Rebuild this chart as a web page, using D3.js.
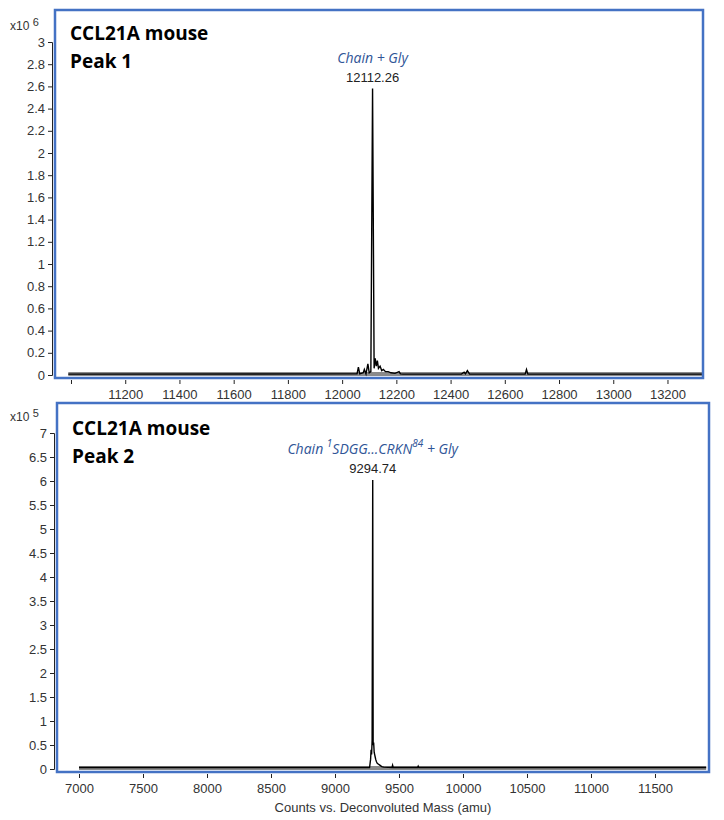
<!DOCTYPE html>
<html><head><meta charset="utf-8">
<script src="https://cdn.jsdelivr.net/npm/d3@7"></script>
<style>body{margin:0;background:#fff}</style>
</head><body>
<svg id="chart" width="724" height="820"></svg>
<script>
// top panel: CCL21A mouse peak 1 (x10^6 counts)
var massTop = [10990, 12040, 12055, 12060, 12065, 12078, 12082, 12088, 12095, 12100, 12106, 12112.26, 12118, 12122, 12126, 12130, 12134, 12140, 12146, 12152, 12160, 12170, 12180, 12195, 12210, 12215, 12225, 12440, 12450, 12455, 12462, 12470, 12675, 12680, 12685, 13330]
var countTop = [0.008, 0.01, 0.01, 0.07, 0.01, 0.02, 0.05, 0.01, 0.1, 0.02, 0.03, 2.58, 0.06, 0.15, 0.08, 0.13, 0.06, 0.08, 0.04, 0.05, 0.03, 0.03, 0.02, 0.015, 0.03, 0.01, 0.008, 0.008, 0.025, 0.01, 0.04, 0.008, 0.008, 0.05, 0.008, 0.008]
var yTicksTop = [0, 0.2, 0.4, 0.6, 0.8, 1, 1.2, 1.4, 1.6, 1.8, 2, 2.2, 2.4, 2.6, 2.8, 3]
var xTicksTop = [11000, 11200, 11400, 11600, 11800, 12000, 12200, 12400, 12600, 12800, 13000, 13200]

// bottom panel: peak 2 (x10^5 counts)
var massBot = [7000, 9270, 9278, 9282, 9286, 9290, 9294.74, 9298, 9302, 9306, 9310, 9314, 9318, 9324, 9330, 9340, 9350, 9365, 9380, 9445, 9450, 9455, 9645, 9650, 9655, 11900]
var countBot = [0.03, 0.03, 0.2, 0.4, 0.3, 0.6, 6.02, 0.5, 0.55, 0.35, 0.3, 0.25, 0.2, 0.15, 0.12, 0.1, 0.08, 0.05, 0.04, 0.03, 0.08, 0.03, 0.03, 0.06, 0.03, 0.03]
var yTicksBot = [0, 0.5, 1, 1.5, 2, 2.5, 3, 3.5, 4, 4.5, 5, 5.5, 6, 6.5, 7]
var xTicksBot = [7000, 7500, 8000, 8500, 9000, 9500, 10000, 10500, 11000, 11500]

var svg = d3.select("#chart")

function drawPanel(cfg) {
  var x = d3.scaleLinear().domain(cfg.xDomain).range([cfg.left, cfg.right])
  var y = d3.scaleLinear().domain([0, cfg.yMax]).range([cfg.zeroY, cfg.topY])
  var g = svg.append("g")

  // baseline noise band
  g.append("rect")
    .attr("x", x(cfg.bandFrom)).attr("width", x(cfg.bandTo) - x(cfg.bandFrom))
    .attr("y", cfg.zeroY - 3).attr("height", 4)
    .attr("fill", "#8a8a8a")

  var line = d3.line()
    .x(function (d) { return x(d[0]) })
    .y(function (d) { return y(d[1]) })
  g.append("path")
    .attr("d", line(d3.zip(cfg.mass, cfg.count)))
    .attr("fill", "none").attr("stroke", "#000").attr("stroke-width", 1.4)

  // y axis
  var yAxis = d3.axisLeft(y).tickValues(cfg.yTicks).tickSize(4).tickFormat(d3.format("~g"))
  var ya = g.append("g").attr("transform", "translate(" + (cfg.left - 3) + ",0)").call(yAxis)
  ya.selectAll("text").attr("font-family", "Liberation Sans, Arial").attr("font-size", 13).attr("fill", "#333")
  ya.selectAll("line,path").attr("stroke", "#222")

  // x axis
  var xAxis = d3.axisBottom(x).tickValues(cfg.xTicks).tickSize(4).tickFormat(function (d) { return cfg.hideFirst && d === cfg.xTicks[0] ? "" : d })
  var xa = g.append("g").attr("transform", "translate(0," + (cfg.bottom + 2) + ")").call(xAxis)
  xa.select(".domain").remove()
  xa.selectAll("text").attr("font-family", "Liberation Sans, Arial").attr("font-size", 13).attr("fill", "#333").attr("dy", "0.9em")
  xa.selectAll("line").attr("stroke", "#222")

  // frame
  g.append("rect")
    .attr("x", cfg.left).attr("y", cfg.boxTop)
    .attr("width", cfg.right - cfg.left).attr("height", cfg.bottom - cfg.boxTop)
    .attr("fill", "none").attr("stroke", "#4472c4").attr("stroke-width", 2.5)

  // exponent
  var ex = g.append("text").attr("x", 10).attr("y", cfg.topY - 12)
    .attr("font-family", "Liberation Sans, Arial").attr("font-size", 12).attr("fill", "#333")
  ex.append("tspan").text("x10 ")
  ex.append("tspan").attr("dy", -4).attr("font-size", 11).text(cfg.exp)

  // titles
  cfg.title.forEach(function (t, i) {
    g.append("text").attr("x", cfg.left + 15).attr("y", cfg.titleY + i * 28)
      .attr("font-family", "Open Sans, sans-serif").attr("font-weight", "bold").attr("font-size", 19)
      .text(t)
  })

  // peak annotation
  var px = x(cfg.peakMass), py = y(cfg.peakCount)
  g.append("text").attr("x", px).attr("y", py - 7).attr("text-anchor", "middle")
    .attr("font-family", "Liberation Sans, Arial").attr("font-size", 13).attr("fill", "#222")
    .text(cfg.peakMass.toFixed(2))
  var lab = g.append("text").attr("x", px).attr("y", py - 26).attr("text-anchor", "middle")
    .attr("font-family", "Open Sans, sans-serif").attr("font-style", "italic").attr("font-size", 14).attr("fill", "#2f5597")
  cfg.label.forEach(function (p) {
    var t = lab.append("tspan").text(p[0])
    if (p[1]) t.attr("baseline-shift", "super").attr("font-size", 10)
  })
}

drawPanel({
  xDomain: [10941, 13331], left: 55, right: 703, boxTop: 10, bottom: 378,
  zeroY: 375, topY: 42, yMax: 3, yTicks: yTicksTop, xTicks: xTicksTop, hideFirst: true,
  mass: massTop, count: countTop, bandFrom: 10990, bandTo: 13330,
  exp: "6", title: ["CCL21A mouse", "Peak 1"], titleY: 40,
  peakMass: 12112.26, peakCount: 2.58, label: [["Chain + Gly"]]
})

drawPanel({
  xDomain: [6828, 11922], left: 57, right: 709, boxTop: 403, bottom: 772,
  zeroY: 769, topY: 433, yMax: 7, yTicks: yTicksBot, xTicks: xTicksBot, hideFirst: false,
  mass: massBot, count: countBot, bandFrom: 7000, bandTo: 11900,
  exp: "5", title: ["CCL21A mouse", "Peak 2"], titleY: 435,
  peakMass: 9294.74, peakCount: 6.02,
  label: [["Chain "], ["1", true], ["SDGG...CRKN"], ["84", true], [" + Gly"]]
})

svg.append("text").attr("x", 383).attr("y", 812).attr("text-anchor", "middle")
  .attr("font-family", "Liberation Sans, Arial").attr("font-size", 13).attr("fill", "#333")
  .text("Counts vs. Deconvoluted Mass (amu)")
</script>
</body></html>
